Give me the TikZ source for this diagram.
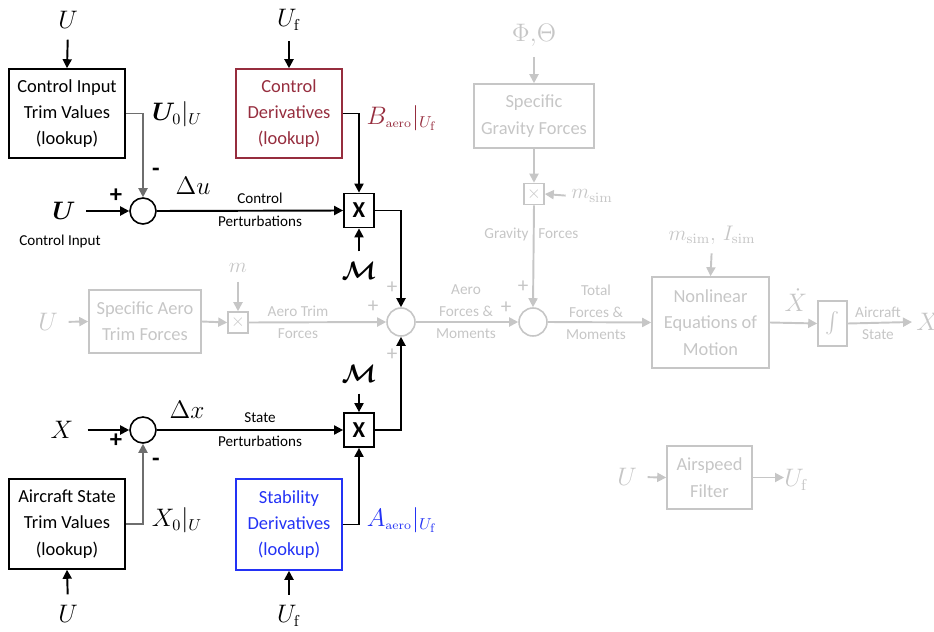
\documentclass[tikz,border=0pt]{standalone}
\usepackage{amsmath,bm}
\usepackage[no-math]{fontspec}
\setmainfont{Carlito}
\usetikzlibrary{arrows.meta}

\definecolor{ghost}{RGB}{198,198,198}
\definecolor{cder}{RGB}{150,45,62}
\definecolor{sder}{RGB}{35,50,245}
\definecolor{trimln}{RGB}{110,110,110}

\tikzset{
  wire/.style={line width=1.1pt, draw=black},
  arr/.style={wire, -{Triangle[length=1.8mm,width=1.8mm]}},
  gwire/.style={line width=1.1pt, draw=ghost},
  garr/.style={gwire, -{Triangle[length=1.8mm,width=1.8mm]}},
  blk/.style={draw, line width=0.9pt, align=center, inner sep=0pt,
    font=\fontsize{10.5}{15}\selectfont},
  gblk/.style={blk, draw=ghost, text=ghost},
  sumc/.style={circle, draw, line width=0.9pt, minimum size=0.52cm, inner sep=0pt},
  gsumc/.style={sumc, draw=ghost, minimum size=0.56cm},
  mul/.style={draw, line width=1pt, minimum width=0.6cm, minimum height=0.68cm,
    inner sep=0pt, font=\fontsize{13}{13}\bfseries\selectfont},
  gmul/.style={draw=ghost, line width=0.9pt, minimum width=0.4cm, minimum height=0.42cm,
    inner sep=0pt, text=ghost, font=\fontsize{10}{10}\selectfont},
  sym/.style={inner sep=0pt, font=\fontsize{13.5}{15}\selectfont},
  gsym/.style={sym, text=ghost},
  lbl/.style={inner sep=0pt, font=\fontsize{8.6}{11}\selectfont},
  glbl/.style={inner sep=0pt, text=ghost, align=center, font=\fontsize{8.7}{12.5}\selectfont},
  sgn/.style={inner sep=0pt, font=\fontsize{14}{14}\bfseries\selectfont},
  gsgn/.style={inner sep=0pt, text=ghost, font=\fontsize{12}{12}\selectfont},
}

\begin{document}
\begin{tikzpicture}[x=0.02cm, y=-0.02cm]
\useasboundingbox (0,0) rectangle (934,632);

% ---------------- control branch ----------------
\node[sym] (Ut) at (68,20) {$U$};
\node[blk, minimum width=2.32cm, minimum height=1.78cm] (citv) at (67,113.5)
  {Control Input\\Trim Values\\(lookup)};
\draw[arr, shorten <=6pt] (Ut.south) -- (citv.north);
\node[sym] (U0) at (177,114) {$\bm{U}_{0}|_{U}$};

\node[sumc] (s1) at (143,211) {};
\node[sym] (Uin) at (64,211) {$\bm{U}$};
\node[lbl] (cin) at (60,241) {Control Input};
\draw[arr, shorten <=6pt] (Uin.east) -- (s1.west);
\draw[arr, draw=trimln] (citv.east) -| (s1.north);
\node[sgn] (p1) at (116,196) {+};
\node[sgn] (n1) at (156,172) {-};
\node[sym] (du) at (193,186) {$\Delta u$};

\node[sym] (Uft) at (289,20) {$U_{\mathrm{f}}$};
\node[blk, draw=cder, text=cder, minimum width=2.12cm, minimum height=1.78cm] (cder)
  at (289,113.5) {Control\\Derivatives\\(lookup)};
\draw[arr, shorten <=6pt] (Uft.south) -- (cder.north);
\node[sym, text=cder] (Baero) at (402,118) {$B_{\scriptscriptstyle\mathrm{aero}}|_{U_{\mathrm{f}}}$};

\node[mul] (m1) at (359,210.5) {X};
\draw[arr] (s1.east) -- (m1.west);
\node[lbl] (cp1) at (260,198) {Control};
\node[lbl] (cp2) at (260,221) {Perturbations};
\draw[arr] (cder.east) -| (m1.north);
\node[sym] (M1) at (359,271) {$\bm{\mathcal{M}}$};
\draw[arr, shorten <=6pt] (M1.north) -- (m1.south);

% ---------------- state branch ----------------
\node[sumc] (s4) at (143,430) {};
\node[sym] (Xin) at (62,430) {$X$};
\draw[arr, shorten <=8pt] (Xin.east) -- (s4.west);
\node[sgn] (p4) at (116,441) {+};
\node[sgn] (n4) at (156,462) {-};
\node[sym] (dx) at (187,410) {$\Delta x$};

\node[blk, minimum width=2.32cm, minimum height=1.8cm] (astv) at (67,524)
  {Aircraft State\\Trim Values\\(lookup)};
\node[sym] (Ub) at (68,614) {$U$};
\draw[arr, shorten <=6pt] (Ub.north) -- (astv.south);
\draw[arr, draw=trimln] (astv.east) -| (s4.south);
\node[sym] (X0) at (177,520) {$X_{0}|_{U}$};

\node[mul] (m2) at (359,430) {X};
\draw[arr] (s4.east) -- (m2.west);
\node[lbl] (sp1) at (260,418) {State};
\node[lbl] (sp2) at (260,441) {Perturbations};
\node[sym] (M2) at (359,374) {$\bm{\mathcal{M}}$};
\draw[arr, shorten <=6pt] (M2.south) -- (m2.north);

\node[blk, draw=sder, text=sder, minimum width=2.12cm, minimum height=1.82cm] (sder)
  at (289,524.5) {Stability\\Derivatives\\(lookup)};
\node[sym] (Ufb) at (289,616) {$U_{\mathrm{f}}$};
\draw[arr, shorten <=6pt] (Ufb.north) -- (sder.south);
\draw[arr] (sder.east) -| (m2.south);
\node[sym, text=sder] (Aaero) at (402,520) {$A_{\scriptscriptstyle\mathrm{aero}}|_{U_{\mathrm{f}}}$};

% ---------------- aero sum ----------------
\node[gsumc] (s2) at (401,322) {};
\draw[arr] (m1.east) -| (s2.north);
\draw[arr] (m2.east) -| (s2.south);
\node[gsgn] (p2a) at (392,288) {+};
\node[gsgn] (p2b) at (373,307) {+};
\node[gsgn] (p2c) at (392,355) {+};

% aero trim forces
\node[gsym] (Ug) at (48,322) {$U$};
\node[gblk, minimum width=2.24cm, minimum height=1.26cm] (saero) at (145,321.5)
  {Specific Aero\\Trim Forces};
\draw[garr, shorten <=6pt] (Ug.east) -- (saero.west);
\node[gmul] (gm1) at (238,322.5) {$\times$};
\draw[garr] (saero.east) -- (gm1.west);
\node[gsym, font=\fontsize{11.5}{13}\selectfont] (mg) at (238,268) {$m$};
\draw[garr, shorten <=5pt] (mg.south) -- (gm1.north);
\draw[garr] (gm1.east) -- (s2.west);
\node[glbl] (atf) at (298,322.5) {Aero Trim\\Forces};

% ---------------- gravity and total sum ----------------
\node[gsumc] (s3) at (533,322) {};
\draw[garr] (s2.east) -- (s3.west);
\node[glbl] (afm) at (466,312) {Aero\\Forces \&\\Moments};
\node[gsgn] (p3a) at (523,287) {+};
\node[gsgn] (p3b) at (506,308) {+};

\node[gsym] (phth) at (534,35) {$\Phi,\!\Theta$};
\node[gblk, minimum width=2.4cm, minimum height=1.28cm] (sgrav) at (534,116)
  {Specific\\Gravity Forces};
\draw[garr, shorten <=6pt] (phth.south) -- (sgrav.north);
\node[gmul] (gm2) at (534,194) {$\times$};
\draw[garr] (sgrav.south) -- (gm2.north);
\node[gsym, font=\fontsize{11.5}{13}\selectfont] (msim) at (592,196) {$m_{\mathrm{sim}}$};
\draw[garr, shorten <=3pt] (msim.west) -- (gm2.east);
\draw[garr] (gm2.south) -- (s3.north);
\node[glbl, anchor=east] (gf1) at (529,234) {Gravity};
\node[glbl, anchor=west] (gf2) at (538,234) {Forces};

\node[glbl] (tfm) at (596,312) {Total\\Forces \&\\Moments};

% ---------------- equations of motion ----------------
\node[gblk, minimum width=2.34cm, minimum height=1.82cm] (neom) at (710.5,322.5)
  {Nonlinear\\Equations of\\Motion};
\draw[garr] (s3.east) -- (neom.west);
\node[gsym, font=\fontsize{12}{13}\selectfont] (mI) at (712,235) {$m_{\mathrm{sim}},\,I_{\mathrm{sim}}$};
\draw[garr, shorten <=5pt] (mI.south) -- (neom.north);

\node[gblk, minimum width=0.58cm, minimum height=0.9cm, font=\fontsize{12}{12}\selectfont] (integ)
  at (832.5,323.5) {$\int$};
\draw[garr] (neom.east) -- (integ.west);
\node[gsym] (Xd) at (796,300) {$\dot{X}$};
\coordinate (xo) at (912,322);
\draw[garr] (integ.east) -- (xo);
\node[glbl] (acs) at (878,323.5) {Aircraft\\State};
\node[gsym, anchor=west] (Xout) at (916,322) {$X$};

% ---------------- airspeed filter ----------------
\node[gsym] (Ua) at (627,477) {$U$};
\node[gblk, minimum width=1.7cm, minimum height=1.26cm] (asf) at (709.5,477.5)
  {Airspeed\\Filter};
\draw[garr, shorten <=6pt] (Ua.east) -- (asf.west);
\node[gsym, anchor=west] (Ufa) at (784,480) {$U_{\mathrm{f}}$};
\draw[garr] (asf.east) -- (asf.east -| Ufa.west);

\end{tikzpicture}
\end{document}
